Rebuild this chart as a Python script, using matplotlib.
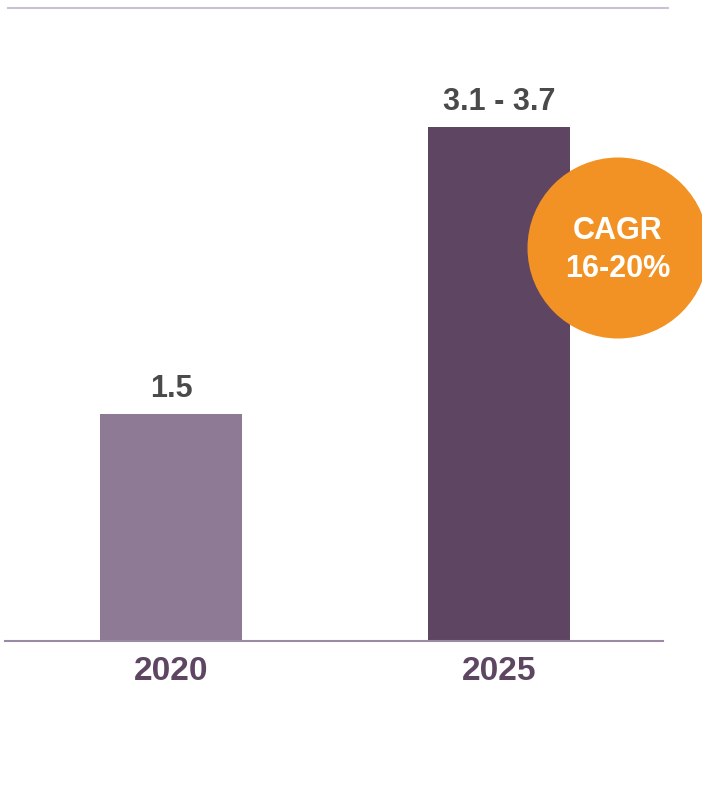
import matplotlib.pyplot as plt
from matplotlib.patches import Circle
from matplotlib.lines import Line2D

# data
years = ['2020', '2025']
values = [1.5, 3.4]
value_labels = ['1.5', '3.1 - 3.7']
bar_colors = ['#8e7a95', '#5e4663']
cagr_text = ['CAGR', '16-20%']

W, H = 702, 786
fig = plt.figure(figsize=(W / 100, H / 100), dpi=100)
fig.patch.set_facecolor('white')

# axes placed so baseline sits at y=641px
ax = fig.add_axes([5 / W, (H - 641) / H, 658 / W, 633 / H])
x = list(range(len(years)))
ax.bar(x, values, width=0.433, color=bar_colors, zorder=2)
ax.set_xlim(-0.506, 1.5)
ax.set_ylim(0, 633 / 151.3)

for s in ['top', 'left', 'right']:
    ax.spines[s].set_visible(False)
ax.spines['bottom'].set_color('#9a8aa5')
ax.spines['bottom'].set_linewidth(1.5)
ax.set_yticks([])
ax.set_xticks(x)
ax.set_xticklabels(years, family='Liberation Sans',
                   fontweight='bold', fontsize=24, color='#5e4663')
ax.tick_params(axis='x', length=0, pad=11)

for xi, v, lab in zip(x, values, value_labels):
    ax.annotate(lab, (xi, v), xytext=(0, 12), textcoords='offset points',
                ha='center', va='baseline', fontsize=22, fontweight='bold',
                color='#4a4a4a', family='Liberation Sans')

# top rule
fig.add_artist(Line2D([8 / W, 668 / W], [1 - 8 / H, 1 - 8 / H],
                      color='#cbc0da', linewidth=1.5))

# CAGR bubble
circ = Circle((6.18, (H - 248) / 100), 0.905, transform=fig.dpi_scale_trans,
              facecolor='#f39224', edgecolor='none', zorder=5)
fig.add_artist(circ)
fig.text(618 / W, 1 - 231 / H, cagr_text[0], ha='center', va='center',
         fontsize=22, fontweight='bold', color='white', family='Liberation Sans', zorder=6)
fig.text(618 / W, 1 - 269 / H, cagr_text[1], ha='center', va='center',
         fontsize=22, fontweight='bold', color='white', family='Liberation Sans', zorder=6)

fig.savefig('out.png', dpi=100)
